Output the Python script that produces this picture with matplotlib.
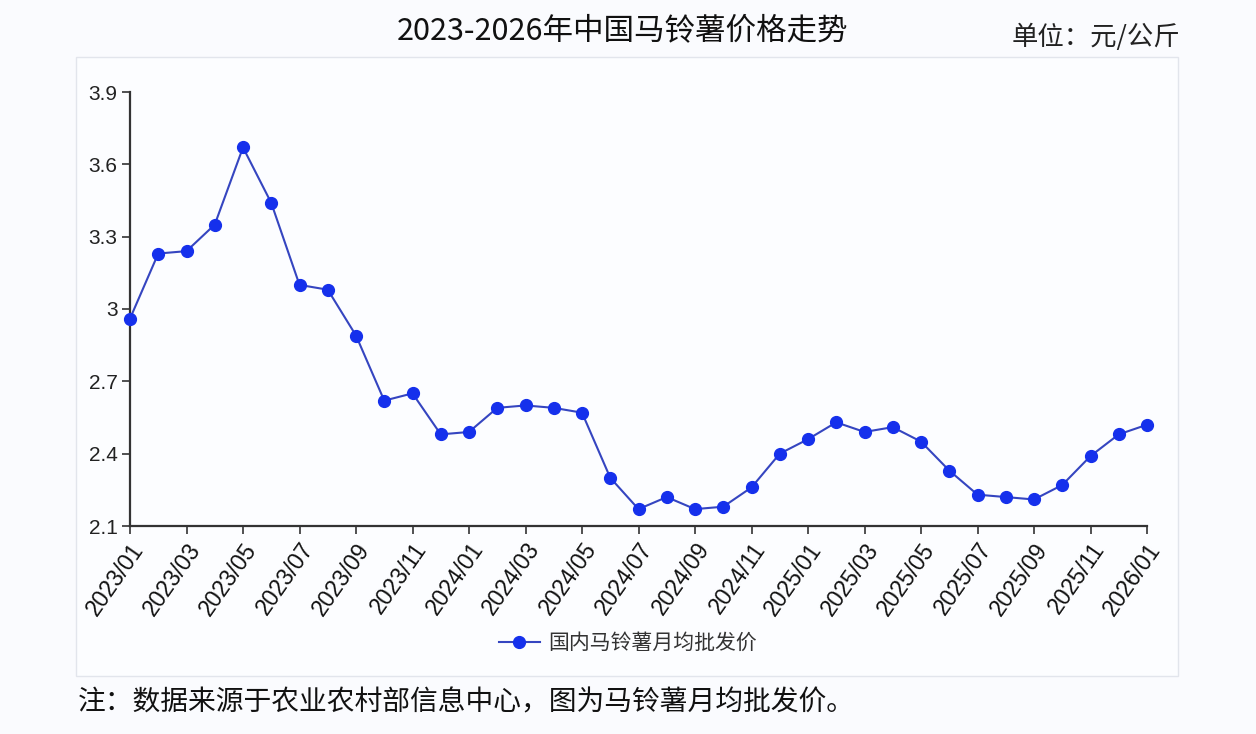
#!/usr/bin/env python

import numpy as np
import matplotlib
matplotlib.use('Agg')
import matplotlib.pyplot as plt
from matplotlib.patches import Rectangle

plt.rcParams['font.family'] = ['Noto Sans CJK SC', 'DejaVu Sans']

# monthly average wholesale price, 2023/01 .. 2026/01
months = ['2023/01', '2023/02', '2023/03', '2023/04', '2023/05', '2023/06',
          '2023/07', '2023/08', '2023/09', '2023/10', '2023/11', '2023/12',
          '2024/01', '2024/02', '2024/03', '2024/04', '2024/05', '2024/06',
          '2024/07', '2024/08', '2024/09', '2024/10', '2024/11', '2024/12',
          '2025/01', '2025/02', '2025/03', '2025/04', '2025/05', '2025/06',
          '2025/07', '2025/08', '2025/09', '2025/10', '2025/11', '2025/12',
          '2026/01']
price = [2.96, 3.23, 3.24, 3.35, 3.67, 3.44, 3.10, 3.08, 2.89, 2.62, 2.65, 2.48,
         2.49, 2.59, 2.60, 2.59, 2.57, 2.30, 2.17, 2.22, 2.17, 2.18, 2.26, 2.40,
         2.46, 2.53, 2.49, 2.51, 2.45, 2.33, 2.23, 2.22, 2.21, 2.27, 2.39, 2.48,
         2.52]
yticks = [2.1, 2.4, 2.7, 3.0, 3.3, 3.6, 3.9]
ytick_labels = ['2.1', '2.4', '2.7', '3', '3.3', '3.6', '3.9']

title = '2023-2026年中国马铃薯价格走势'
unit = '单位：元/公斤'
series_name = '国内马铃薯月均批发价'
note = '注：数据来源于农业农村部信息中心，图为马铃薯月均批发价。'

W, H = 1256, 734
bg = '#fafbfe'

fig = plt.figure(figsize=(W / 100, H / 100), dpi=100, facecolor=bg)

# light panel frame around the plot
fig.patches.append(Rectangle((76 / W, 1 - 676 / H), (1178 - 76) / W,
                             (676 - 57) / H, transform=fig.transFigure,
                             facecolor='#fcfdff', edgecolor='#e2e5ec',
                             lw=1.0, zorder=-5))

ax = fig.add_axes([130 / W, 1 - 526 / H, (1147 - 130) / W, (526 - 92) / H])
ax.set_facecolor('none')
ax.set_zorder(2)

x = np.arange(len(months))
ax.plot(x, price, ls='-', lw=1.5, color='#3545c0', marker='o', ms=8.5,
        mfc='#1530ec', mec='#1530ec', label=series_name, clip_on=False,
        zorder=3)

ax.set_xlim(0, len(months) - 1)
ax.set_ylim(2.1, 3.9)
ax.set_yticks(yticks)
ax.set_yticklabels(ytick_labels, family=['Liberation Sans'], fontsize=15,
                   color='#222222')
ax.set_xticks(x[::2])
ax.set_xticklabels(months[::2], rotation=55, ha='right', va='top',
                   rotation_mode='anchor', family=['Liberation Sans'],
                   fontsize=16.5, color='#111111')

for side in ['top', 'right']:
    ax.spines[side].set_visible(False)
for side in ['left', 'bottom']:
    ax.spines[side].set_color('#333333')
    ax.spines[side].set_linewidth(1.6)
ax.tick_params(axis='both', direction='out', length=6, width=1.2,
               color='#333333', pad=3)

leg = fig.legend(loc='center', bbox_to_anchor=(628 / W, 1 - 643 / H),
                 frameon=False, fontsize=15, handlelength=2.0,
                 handletextpad=0.4)
for t in leg.get_texts():
    t.set_color('#333333')

fig.text(622 / W, 1 - 31 / H, title, ha='center', va='center', fontsize=22,
         color='#111111')
fig.text(1180 / W, 1 - 37 / H, unit, ha='right', va='center', fontsize=19,
         color='#222222')
fig.text(78 / W, 1 - 702 / H, note, ha='left', va='center', fontsize=20,
         color='#111111')

fig.savefig('out.png', dpi=100, facecolor=bg)
plt.close(fig)
